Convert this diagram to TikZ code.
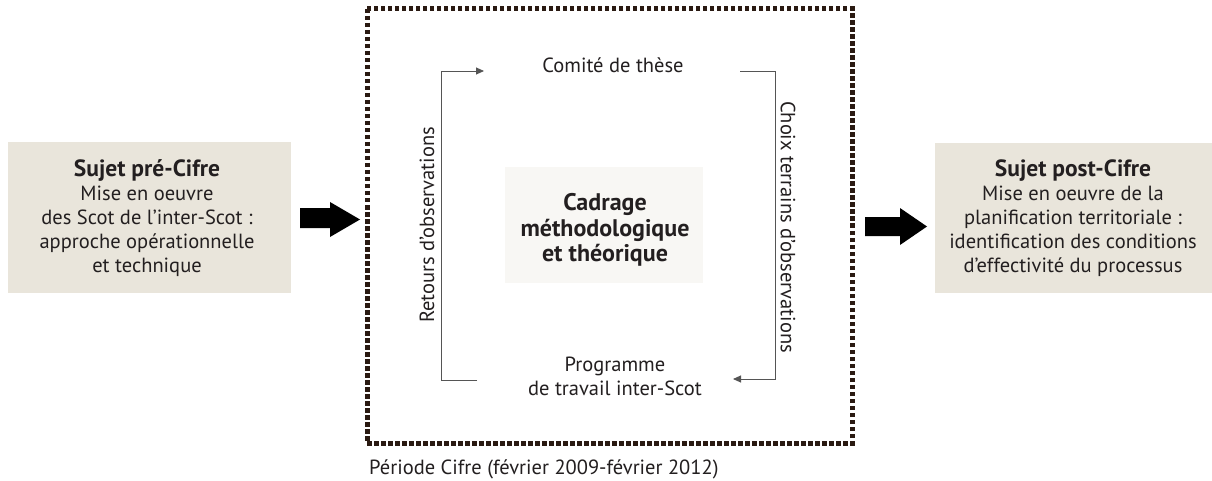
\documentclass[tikz,border=0pt]{standalone}
\usepackage{fontspec}
\setmainfont{PT Sans}
\usetikzlibrary{arrows.meta}
\definecolor{boxfill}{HTML}{E9E5DB}
\definecolor{cfill}{HTML}{F8F7F4}
\definecolor{framec}{HTML}{2A1A12}
\definecolor{linec}{HTML}{555555}
\definecolor{txt}{HTML}{231F20}
\newcommand\ttlfont{\bfseries\fontsize{23.5}{24}\selectfont}
\tikzset{
  lbl/.style={inner sep=0pt, text=txt, font=\fontsize{20.5}{24}\selectfont, align=center},
  loopline/.style={draw=linec, line width=0.9pt},
  looparrow/.style={loopline, -{Triangle[length=8pt,width=7pt]}},
  frametype/.style={draw=framec, line width=5pt, dash pattern=on 4.5pt off 2.5pt}
}
\begin{document}
\begin{tikzpicture}[x=1pt,y=-1pt]
\useasboundingbox[fill=white] (0,0) rectangle (1212,481);
% side boxes
\fill[boxfill] (8,142) rectangle (291,293);
\node[lbl] (pre) at (147,218) {{\ttlfont Sujet pré-Cifre}\\Mise en oeuvre\\des Scot de l’inter-Scot :\\approche opérationnelle\\et technique};
\fill[boxfill] (935,143) rectangle (1212,293);
\node[lbl] (post) at (1073,218) {{\ttlfont Sujet post-Cifre}\\Mise en oeuvre de la\\planification territoriale :\\identification des conditions\\d’effectivité du processus};
% frame
\draw[frametype] (367,9) rectangle (852,443);
\node[lbl, anchor=west] (periode) at (369,469) {Période Cifre (février 2009-février 2012)};
% block arrows
\fill[black] (300,208) -- (330,208) -- (330,202) -- (360,219.5) -- (330,237) -- (330,228) -- (300,228) -- cycle;
\fill[black] (865,217) -- (900,217) -- (900,208) -- (927,226.5) -- (900,245) -- (900,236) -- (865,236) -- cycle;
% center
\fill[cfill] (505,167) rectangle (703,283);
\node[lbl, font=\bfseries\fontsize{24}{25.5}\selectfont] (cadrage) at (605,230) {Cadrage\\méthodologique\\et théorique};
% loop labels
\node[lbl] (comite) at (613,65) {Comité de thèse};
\node[lbl] (programme) at (615,376) {Programme\\de travail inter-Scot};
\node[lbl, rotate=90] (retours) at (427,225) {Retours d’observations};
\node[lbl, rotate=-90] (choix) at (788,227) {Choix terrains d’observations};
% loop connectors
\coordinate (l1) at (477,380);
\coordinate (l2) at (441,380);
\coordinate (l3) at (441,71);
\coordinate (l4) at (484,71);
\coordinate (r1) at (740,71);
\coordinate (r2) at (775,71);
\coordinate (r3) at (775,379);
\coordinate (r4) at (733,379);
\draw[looparrow] (l1) -- (l2) -- (l3) -- (l4);
\draw[looparrow] (r1) -- (r2) -- (r3) -- (r4);
\end{tikzpicture}
\end{document}
